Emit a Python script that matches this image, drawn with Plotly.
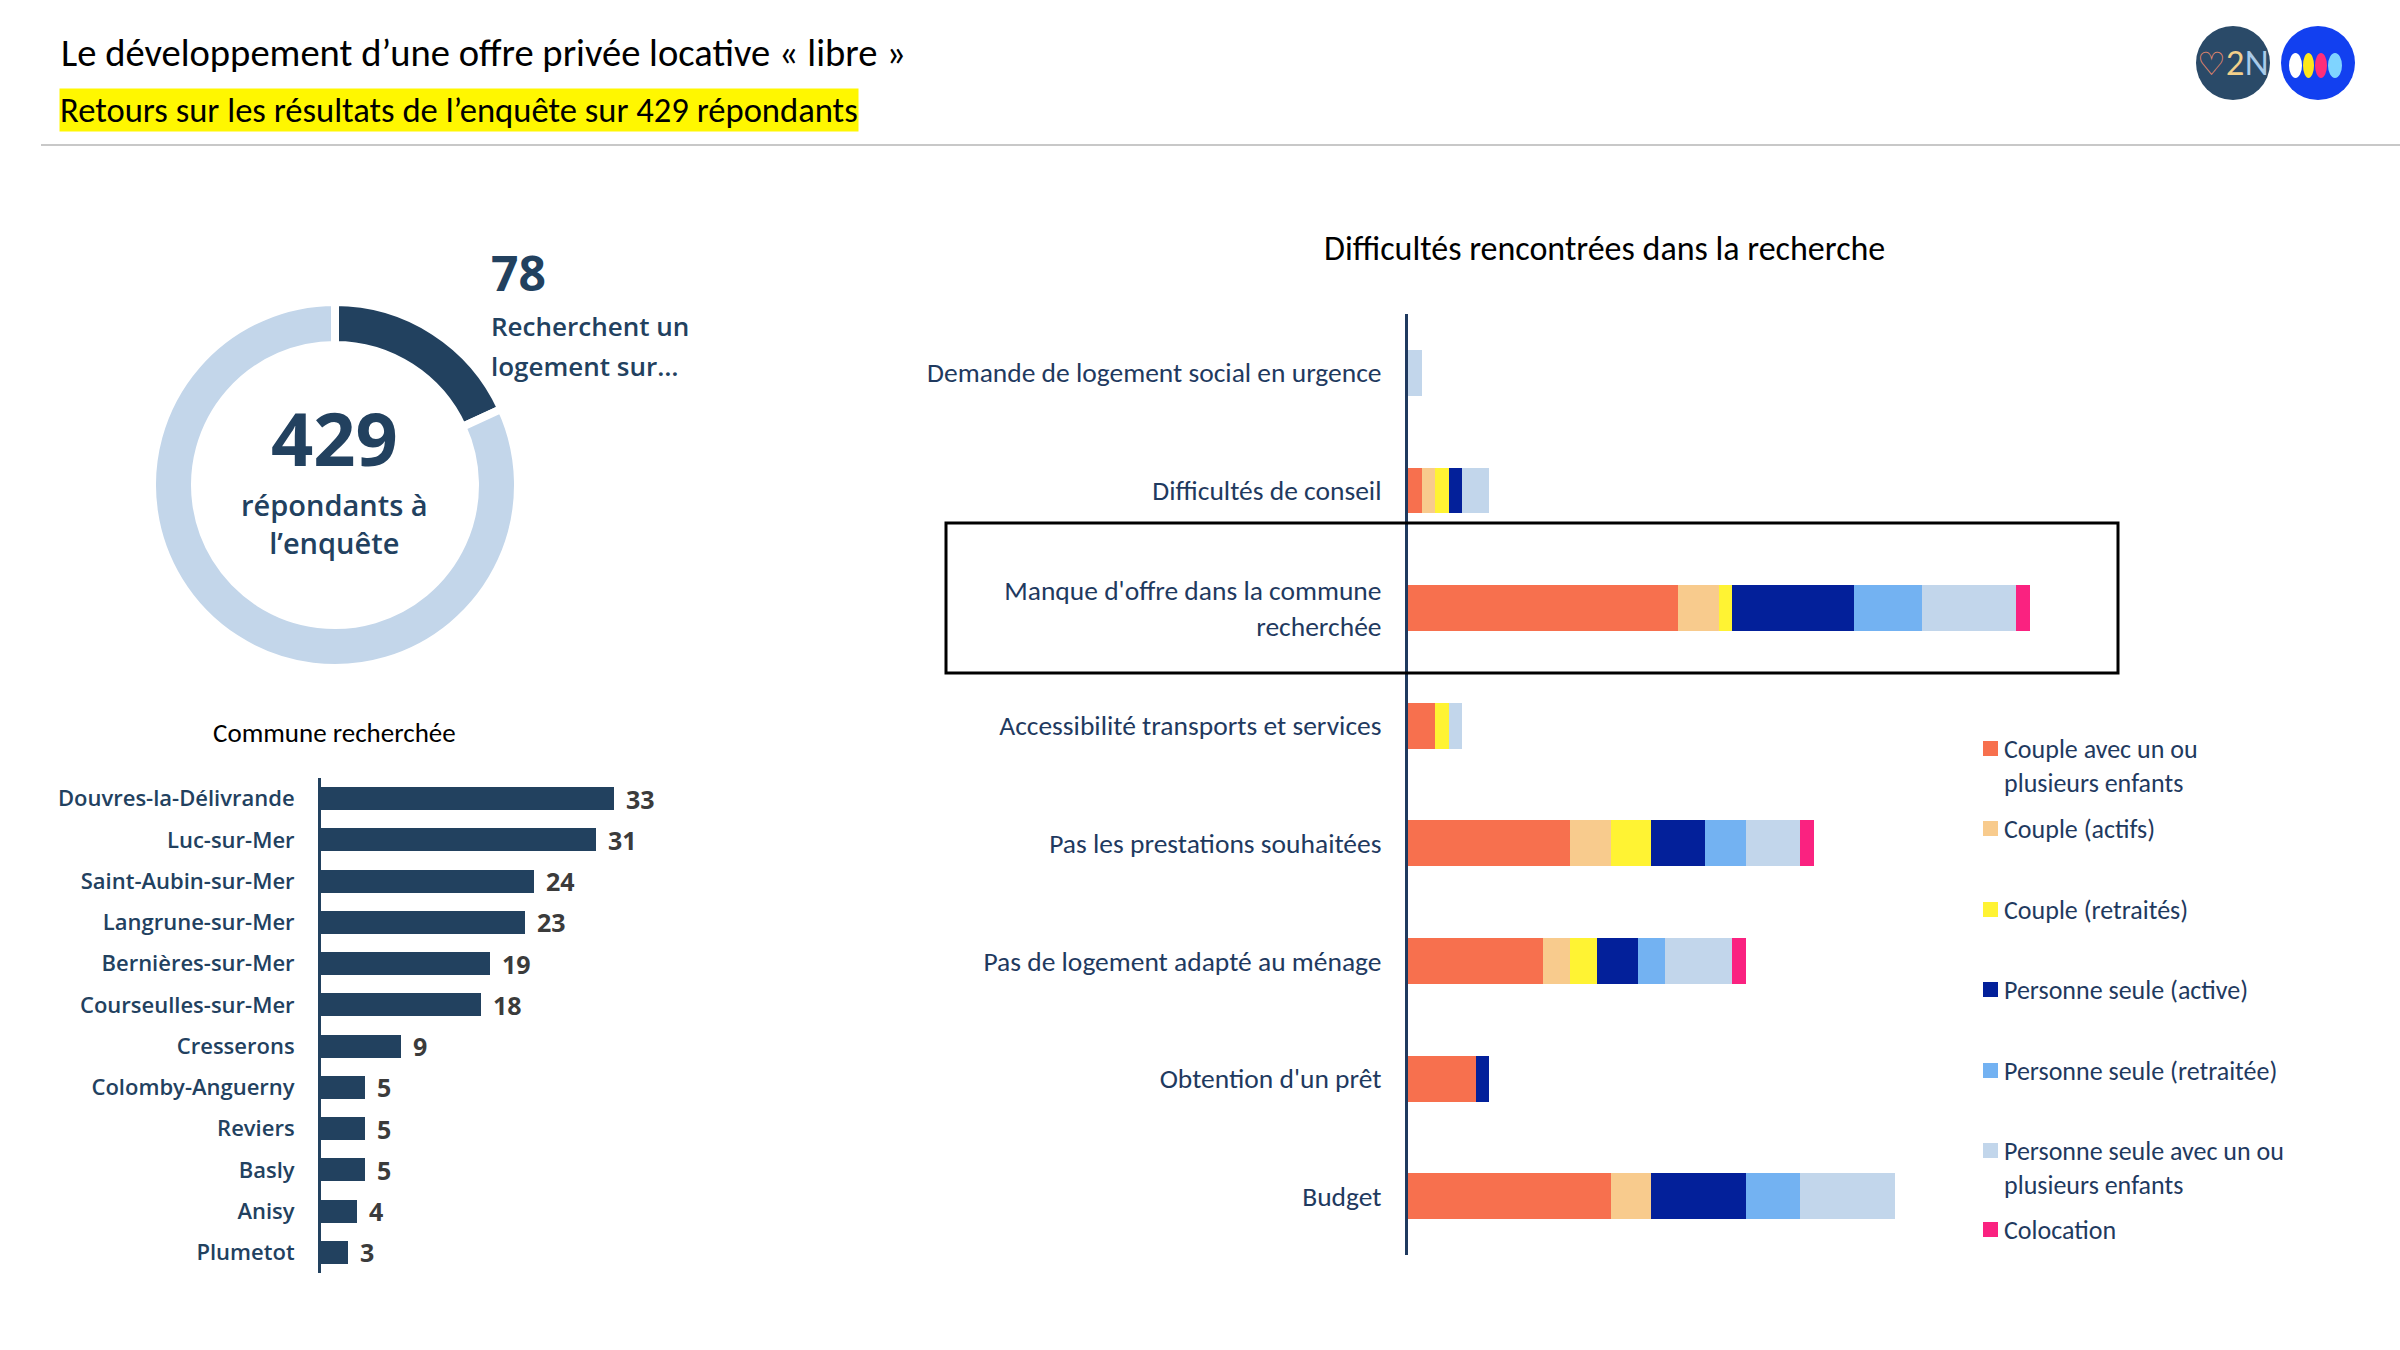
import plotly.graph_objects as go

W, H = 2400, 1350


def px(x):
    return x / W


def py(y):
    return 1 - y / H


# ---------------- Data ----------------
title_text = "Le développement d’une offre privée locative « libre »"
subtitle_text = "Retours sur les résultats de l’enquête sur 429 répondants"

donut_labels = ["Recherchent un logement sur…", "Autres répondants"]
donut_values = [78, 351]
total_respondents = 429
donut_highlight = 78

communes = ["Douvres-la-Délivrande", "Luc-sur-Mer", "Saint-Aubin-sur-Mer",
            "Langrune-sur-Mer", "Bernières-sur-Mer", "Courseulles-sur-Mer",
            "Cresserons", "Colomby-Anguerny", "Reviers", "Basly", "Anisy", "Plumetot"]
commune_counts = [33, 31, 24, 23, 19, 18, 9, 5, 5, 5, 4, 3]

difficultes = ["Demande de logement social en urgence",
               "Difficultés de conseil",
               "Manque d'offre dans la commune<br>recherchée",
               "Accessibilité transports et services",
               "Pas les prestations souhaitées",
               "Pas de logement adapté au ménage",
               "Obtention d'un prêt",
               "Budget"]

menages = ["Couple avec un ou<br>plusieurs enfants",
           "Couple (actifs)",
           "Couple (retraités)",
           "Personne seule (active)",
           "Personne seule (retraitée)",
           "Personne seule avec un ou<br>plusieurs enfants",
           "Colocation"]

couple_enfants = [0, 1, 20, 2, 12, 10, 5, 15]
couple_actifs = [0, 1, 3, 0, 3, 2, 0, 3]
couple_retraites = [0, 1, 1, 1, 3, 2, 0, 0]
seule_active = [0, 1, 9, 0, 4, 3, 1, 7]
seule_retraitee = [0, 0, 5, 0, 3, 2, 0, 4]
seule_enfants = [1, 2, 7, 1, 4, 5, 0, 7]
colocation = [0, 0, 1, 0, 1, 1, 0, 0]
series_values = [couple_enfants, couple_actifs, couple_retraites, seule_active,
                 seule_retraitee, seule_enfants, colocation]

# ---------------- Styles ----------------
NAVY_UI = "#22415F"
LIGHT_RING = "#C3D6EA"
TEXT_NAVY = "#1F3A5F"
series_colors = ["#F7704E", "#F8CB8D", "#FFF333", "#03209A", "#73B2F2", "#C2D6EB", "#FA2280"]
CAL = "Carlito, Calibri, Lato, sans-serif"
ROUND = "Open Sans, Lato, sans-serif"

fig = go.Figure()

# Donut
fig.add_trace(go.Pie(
    labels=donut_labels, values=donut_values, hole=0.765, sort=False,
    direction="clockwise", rotation=0,
    marker=dict(colors=[NAVY_UI, LIGHT_RING], line=dict(color="white", width=8)),
    textinfo="none", hoverinfo="label+value", showlegend=False,
    domain=dict(x=[px(152), px(518)], y=[py(668), py(302)]),
))

# Left bar chart
fig.add_trace(go.Bar(
    x=commune_counts, y=communes, orientation="h", width=0.56,
    marker=dict(color=NAVY_UI, line=dict(width=0)),
    xaxis="x", yaxis="y", showlegend=False, hoverinfo="x+y",
))

# Right stacked bar chart
for name, vals, col in zip(menages, series_values, series_colors):
    fig.add_trace(go.Bar(
        x=vals, y=difficultes, orientation="h", name=name.replace("<br>", " "), width=0.39,
        marker=dict(color=col, line=dict(width=0)),
        xaxis="x2", yaxis="y2", showlegend=False,
    ))

annotations = []
shapes = []

# Header
annotations.append(dict(text=title_text, x=px(59), y=py(53), xref="paper", yref="paper",
                        xanchor="left", yanchor="middle", showarrow=False,
                        font=dict(family=CAL, size=38.6, color="#000000")))
annotations.append(dict(text=subtitle_text, x=px(59), y=py(110), xref="paper", yref="paper",
                        xanchor="left", yanchor="middle", showarrow=False,
                        bgcolor="#FFF700", borderpad=0,
                        font=dict(family=CAL, size=34.6, color="#000000")))
shapes.append(dict(type="line", xref="paper", yref="paper", x0=px(41), x1=1.0,
                   y0=py(145), y1=py(145), line=dict(color="#C8C8C8", width=2)))

# Logos
shapes.append(dict(type="circle", xref="paper", yref="paper", x0=px(2196), x1=px(2270),
                   y0=py(100), y1=py(26), fillcolor="#2A4A68", line=dict(width=0)))
annotations.append(dict(
    text='<span style="color:#F08A6C">♡</span><span style="color:#F3D08A">2</span><span style="color:#A9CBEA">N</span>',
    x=px(2233), y=py(63), xref="paper", yref="paper", xanchor="center", yanchor="middle",
    showarrow=False, font=dict(family="Lato, sans-serif", size=32)))
shapes.append(dict(type="circle", xref="paper", yref="paper", x0=px(2281), x1=px(2355),
                   y0=py(100), y1=py(26), fillcolor="#1240F0", line=dict(width=0)))
leaf_specs = [(-29, -16, "#FFFFFF"), (-15, -4, "#FFE81A"), (-3, 9, "#FF2E7A"), (10, 24, "#7FD4FF")]
for x0, x1, c in leaf_specs:
    shapes.append(dict(type="circle", xref="paper", yref="paper",
                       x0=px(2318 + x0), x1=px(2318 + x1), y0=py(63 + 15), y1=py(63 - 10),
                       fillcolor=c, line=dict(width=0)))

# Donut texts
annotations.append(dict(text=f"<b>{total_respondents}</b>", x=px(334), y=py(437), xref="paper", yref="paper",
                        xanchor="center", yanchor="middle", showarrow=False, borderpad=0,
                        font=dict(family=ROUND, size=74, color=NAVY_UI)))
annotations.append(dict(text="répondants à<br>l’enquête", x=px(334), y=py(523), xref="paper", yref="paper",
                        xanchor="center", yanchor="middle", showarrow=False, borderpad=0,
                        font=dict(family=ROUND, size=29, color=NAVY_UI, weight=600)))
annotations.append(dict(text=f"<b>{donut_highlight}</b>", x=px(489), y=py(272), xref="paper", yref="paper",
                        xanchor="left", yanchor="middle", showarrow=False,
                        font=dict(family=ROUND, size=48, color=NAVY_UI)))
for txt, yy in [("Recherchent un", 326), ("logement sur…", 366)]:
    annotations.append(dict(text=txt, x=px(489), y=py(yy), xref="paper", yref="paper",
                            xanchor="left", yanchor="middle", showarrow=False, align="left",
                            font=dict(family=ROUND, size=26, color=NAVY_UI, weight=600)))

# Chart titles
annotations.append(dict(text="Commune recherchée", x=px(334), y=py(732), xref="paper", yref="paper",
                        xanchor="center", yanchor="middle", showarrow=False,
                        font=dict(family=CAL, size=27, color="#000000")))
annotations.append(dict(text="Difficultés rencontrées dans la recherche", x=px(1604), y=py(249),
                        xref="paper", yref="paper", xanchor="center", yanchor="middle", showarrow=False,
                        font=dict(family=CAL, size=34, color="#000000")))

# Value labels on left bars
for c, v in zip(communes, commune_counts):
    annotations.append(dict(text=f"<b>{v}</b>", x=v, y=c, xref="x", yref="y",
                            xanchor="left", yanchor="middle", xshift=10, showarrow=False,
                            font=dict(family=ROUND, size=25, color="#3B3B3B")))

# Highlight rectangle
shapes.append(dict(type="rect", xref="paper", yref="paper", x0=px(946), x1=px(2118),
                   y0=py(673), y1=py(523), line=dict(color="#000000", width=3)))

# Manual legend
legend_y = [748, 828, 909, 989, 1070, 1150, 1229]
for name, col, yy in zip(menages, series_colors, legend_y):
    shapes.append(dict(type="rect", xref="paper", yref="paper", x0=px(1983), x1=px(1998),
                       y0=py(yy + 8), y1=py(yy - 7), fillcolor=col, line=dict(width=0)))
    annotations.append(dict(text=name, x=px(2002), y=py(yy - 17), xref="paper", yref="paper",
                            xanchor="left", yanchor="top", align="left", showarrow=False,
                            font=dict(family=CAL, size=26, color=TEXT_NAVY)))

fig.update_layout(
    width=W, height=H, margin=dict(l=0, r=0, t=0, b=0),
    paper_bgcolor="white", plot_bgcolor="white",
    barmode="stack",
    xaxis=dict(domain=[px(321), px(676)], range=[0, 40], visible=False, fixedrange=True),
    yaxis=dict(domain=[py(1273), py(778)], autorange="reversed", showline=True, linewidth=3,
               linecolor=NAVY_UI, showgrid=False, ticks="", ticklabelstandoff=19,
               tickfont=dict(family=ROUND, size=22, color=NAVY_UI, weight=600), anchor="x"),
    xaxis2=dict(domain=[px(1408), px(2100)], range=[0, (2100 - 1408) / 13.52], visible=False,
                anchor="y2", fixedrange=True),
    yaxis2=dict(domain=[py(1255), py(314)], autorange="reversed", showline=True, linewidth=3,
                linecolor=TEXT_NAVY, showgrid=False, ticks="", ticklabelstandoff=18,
                tickfont=dict(family=CAL, size=27.5, color=TEXT_NAVY), anchor="x2"),
    annotations=annotations,
    shapes=shapes,
)

fig.write_html("out.html")
